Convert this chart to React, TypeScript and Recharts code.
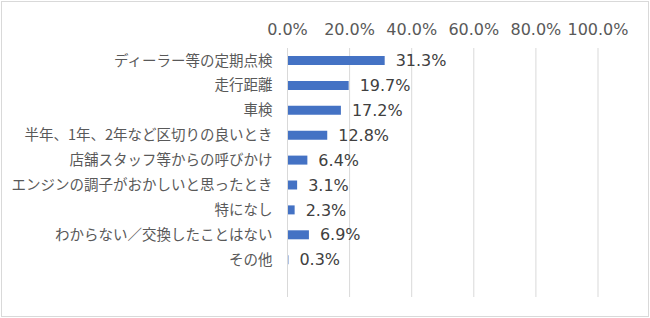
import { BarChart, Bar, XAxis, YAxis, CartesianGrid, LabelList } from 'recharts';

const categories = [
    'ディーラー等の定期点検',
    '走行距離',
    '車検',
    '半年、1年、2年など区切りの良いとき',
    '店舗スタッフ等からの呼びかけ',
    'エンジンの調子がおかしいと思ったとき',
    '特になし',
    'わからない／交換したことはない',
    'その他',
    '',
];

const shares = [0.313, 0.197, 0.172, 0.128, 0.064, 0.031, 0.023, 0.069, 0.003, null];

const xTicks = [0, 0.2, 0.4, 0.6, 0.8, 1];

const FONT = '"Noto Sans CJK JP", "Noto Sans", sans-serif';
// numbers in the original are wide (Meiryo-like), DejaVu comes closest
const NUM_FONT = '"DejaVu Sans", "Noto Sans CJK JP", sans-serif';

const pct = (v: any) => (v === null || v === undefined || v === '' ? '' : `${(Number(v) * 100).toFixed(1)}%`);

export default function App() {
    const data = categories.map((name, i) => ({ name, value: shares[i] }));

    return (
        <div style={{ position: 'fixed', left: 0, top: 0, width: 650, height: 318, background: '#fff', fontFamily: FONT }}>
            <div
                style={{
                    position: 'absolute',
                    left: 1,
                    top: 1,
                    width: 648,
                    height: 316,
                    border: '1px solid #D9D9D9',
                    boxSizing: 'border-box',
                }}
            />
            <div style={{ position: 'absolute', left: 0, top: 0 }}>
                <BarChart
                    width={650}
                    height={318}
                    data={data}
                    layout="vertical"
                    margin={{ top: 8, right: 52, bottom: 21, left: 7.5 }}
                    barCategoryGap={0}
                >
                    <CartesianGrid horizontal={false} stroke="#D9D9D9" />
                    <XAxis
                        type="number"
                        orientation="top"
                        domain={[0, 1]}
                        ticks={xTicks}
                        tickFormatter={pct}
                        axisLine={false}
                        tickLine={false}
                        height={40}
                        tickMargin={7}
                        tick={{ fill: '#595959', fontSize: 16, fontFamily: NUM_FONT }}
                    />
                    <YAxis
                        type="category"
                        dataKey="name"
                        width={280}
                        axisLine={{ stroke: '#D9D9D9' }}
                        tickLine={false}
                        tickMargin={9}
                        interval={0}
                        tick={{ fill: '#595959', fontSize: 14.5, fontFamily: FONT }}
                    />
                    <Bar dataKey="value" fill="#4472C4" barSize={9} isAnimationActive={false}>
                        <LabelList
                            dataKey="value"
                            position="right"
                            offset={11}
                            formatter={pct}
                            fill="#404040"
                            fontSize={16}
                            fontFamily={NUM_FONT}
                        />
                    </Bar>
                </BarChart>
            </div>
        </div>
    );
}
